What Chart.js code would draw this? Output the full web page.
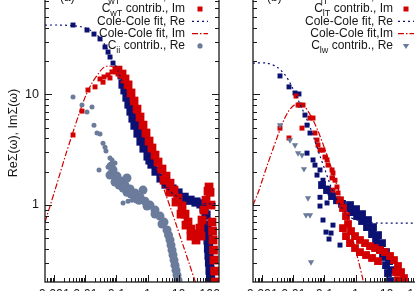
<!DOCTYPE html>
<html>
<head>
<meta charset="utf-8">
<title>Self-energy contributions</title>
<script src="https://cdn.jsdelivr.net/npm/chart.js@4.4.1/dist/chart.umd.min.js"></script>
<style>
  html, body { margin: 0; padding: 0; background: #fff; }
  #wrap { position: relative; width: 415px; height: 291px; overflow: hidden; background: #fff; }
  canvas { position: absolute; top: -30px; }
  #panelA { left: 0; }
  #panelB { left: 243px; }
</style>
</head>
<body>
<div id="wrap">
  <canvas id="panelA" width="229" height="340" style="width:229px;height:340px"></canvas>
  <canvas id="panelB" width="194" height="340" style="width:194px;height:340px"></canvas>
</div>
<script>
const FONT = "'Liberation Sans', Arial, Helvetica, sans-serif";
const INK = '#161616';
const NAVY = '#0b1172';
const RED = '#d20000';
const SLATE = '#6b7b9b';

const X_MIN = 0.0005, X_MAX = 200;
const Y_MIN = 0.2, Y_MAX = 100;

// ---- panel (a) ----
const aWtReLooseX = [0.00399, 0.01125, 0.0189, 0.0295, 0.0428, 0.0535, 0.0619, 0.0774, 0.104, 0.130];
const aWtReLooseY = [42.5, 38.3, 35.2, 31.8, 26.9, 24.2, 21.8, 19.2, 16.6, 14.4];
const aWtReBandX = [0.163, 0.188, 0.218, 0.253, 0.294, 0.341, 0.395, 0.494, 0.617, 0.771,
  1.04, 1.20, 1.39, 1.88, 2.72, 3.94, 6.14, 9.59, 15.0, 23.3,
  36.4, 52.7, 65.9, 76.4, 82.2, 85.5, 88.7, 92.0, 95.5, 99.1, 103, 107, 111];
const aWtReBandY = [12.4, 11.0, 9.46, 8.18, 7.07, 6.11, 5.27, 4.47, 3.78, 3.27,
  2.77, 2.55, 2.34, 2.02, 1.75, 1.54, 1.39, 1.28, 1.17, 1.10,
  1.06, 1.02, 0.935, 0.807, 0.655, 0.566, 0.480, 0.406, 0.351, 0.303, 0.256, 0.221, 0.188];

const aWtImLooseX = [0.00399, 0.00776, 0.0121, 0.0204, 0.0295, 0.0369, 0.0397, 0.0535, 0.0619, 0.0718, 0.0897, 0.112];
const aWtImLooseY = [4.29, 7.06, 10.96, 11.7, 13.8, 12.9, 14.4, 15.0, 14.1, 16.0, 17.0, 15.3];
const aWtImBandX = [0.112, 0.151, 0.188, 0.236, 0.294, 0.367, 0.458, 0.573, 0.716, 0.893,
  1.12, 1.39, 1.74, 2.18, 2.92, 3.40, 3.94, 5.30, 5.30, 7.13,
  8.26, 9.59, 12.0, 12.9, 16.1, 17.3, 20.1, 25.1, 25.1, 31.4,
  36.4, 39.2, 49.0, 52.7, 56.8, 65.9, 76.4, 88.7, 95.5, 103,
  111, 119, 124, 128.5, 133, 138, 144, 149];
const aWtImBandY = [16.6, 15.3, 13.8, 12.2, 10.3, 8.71, 7.36, 6.24, 5.27, 4.47,
  3.78, 3.27, 2.82, 2.44, 2.11, 1.67, 1.82, 1.57, 1.30, 1.36,
  1.06, 1.15, 0.824, 0.975, 0.824, 0.655, 0.698, 0.603, 0.521, 0.543,
  0.480, 0.543, 0.615, 0.521, 0.728, 0.897, 1.10, 1.33, 1.45, 1.30,
  0.995, 0.698, 0.578, 0.480, 0.389, 0.316, 0.251, 0.20];

const aFitReX = [0.0005, 0.00152, 0.00319, 0.0067, 0.0121, 0.0204, 0.0295, 0.0428, 0.0619, 0.0897,
  0.130, 0.188, 0.273, 0.395, 0.573, 0.830, 1.20, 1.74, 2.52, 3.66,
  5.30, 7.67, 11.1, 23.3, 49.0, 103, 200];
const aFitReY = [42.5, 42.5, 42.1, 41.2, 39.1, 35.9, 32.4, 28.0, 23.2, 18.8,
  14.7, 10.96, 7.85, 5.62, 4.11, 3.13, 2.44, 1.98, 1.67, 1.48,
  1.33, 1.22, 1.15, 1.08, 1.04, 1.02, 1.02];

const aFitImX = [0.0005, 0.00105, 0.0022, 0.00399, 0.0067, 0.01045, 0.0163, 0.0255, 0.0369, 0.0535,
  0.0774, 0.112, 0.163, 0.236, 0.341, 0.494, 0.716, 1.04, 1.62, 2.52,
  3.94, 6.14, 8.89, 13.9, 21.7, 33.8, 39.2];
const aFitImY = [0.698, 1.36, 2.71, 4.56, 7.06, 9.87, 12.7, 15.3, 17.3, 18.1,
  17.7, 16.3, 14.4, 12.2, 9.66, 7.22, 5.27, 3.78, 2.59, 1.78,
  1.22, 0.859, 0.628, 0.432, 0.297, 0.204, 0.180];

const aIiLooseX = [0.00399, 0.00776, 0.01125, 0.0163, 0.0189, 0.0236, 0.0295, 0.0369, 0.0428, 0.046,
  0.0274, 0.0535, 0.0619, 0.0718, 0.0897, 0.163, 0.236, 0.316];
const aIiLooseY = [9.46, 8.01, 6.92, 7.69, 5.27, 4.47, 4.38, 3.62, 3.33, 3.07,
  2.07, 2.20, 2.65, 2.55, 2.39, 1.04, 1.08, 1.10];
const aIiBandX = [0.0619, 0.0774, 0.104, 0.121, 0.140, 0.188, 0.218, 0.273, 0.395, 0.458,
  0.573, 0.830, 1.20, 1.74, 2.52, 3.40, 4.24, 4.74, 5.30, 5.70,
  6.14, 6.62, 7.13, 7.67, 8.26, 8.89, 9.59, 10.3,
  0.0667, 0.0897, 0.163, 0.218, 0.294, 0.532, 0.716, 0.962, 1.74, 2.92];
const aIiBandY = [1.86, 2.07, 1.82, 1.51, 1.64, 1.51, 1.30, 1.39, 1.28, 1.13,
  1.17, 1.08, 0.995, 0.897, 0.791, 0.698, 0.592, 0.532, 0.480, 0.432,
  0.389, 0.351, 0.316, 0.284, 0.256, 0.231, 0.208, 0.176,
  2.24, 1.61, 1.42, 1.75, 1.25, 1.10, 1.36, 0.975, 0.824, 0.670];

// ---- panel (b) ----
const bLtReLooseX = [0.0037, 0.00721, 0.01125, 0.0151, 0.0163, 0.0236, 0.0274, 0.0342, 0.0274, 0.0428,
  0.0495, 0.0575, 0.0718, 0.0897, 0.121, 0.0718, 0.151, 0.0718, 0.121, 0.0897,
  0.112, 0.163, 0.140, 0.188, 0.316];
const bLtReLooseY = [14.7, 11.7, 10.3, 10.1, 8.01, 6.50, 5.27, 4.47, 2.94, 2.55,
  2.29, 1.86, 2.07, 1.67, 1.42, 1.17, 1.28, 0.975, 1.04, 0.728,
  0.566, 0.555, 0.490, 0.655, 0.432];
const bLtReBandX = [0.0834, 0.121, 0.175, 0.253, 0.367, 0.532, 0.771, 1.12, 1.62, 2.34,
  3.40, 4.57, 6.14, 7.67, 9.59, 11.1, 12.9, 13.9,
  0.664, 1.04, 1.62, 2.52, 3.66, 5.30, 7.13, 9.59, 12.0, 13.9];
const bLtReBandY = [1.51, 1.36, 1.20, 1.10, 1.02, 0.935, 0.859, 0.791, 0.713, 0.628,
  0.543, 0.470, 0.397, 0.337, 0.284, 0.241, 0.204, 0.176,
  0.995, 0.914, 0.824, 0.728, 0.628, 0.532, 0.450, 0.373, 0.309, 0.256];

const bLtImLooseX = [0.0121, 0.0204, 0.0141, 0.0037, 0.00721, 0.0189, 0.0342, 0.0428, 0.0495, 0.0575,
  0.0619, 0.0718, 0.0897, 0.104, 0.121, 0.130, 0.175, 0.188, 0.175, 0.218,
  0.253, 0.188, 0.273];
const bLtImLooseY = [9.66, 8.01, 8.01, 4.95, 4.03, 4.95, 6.11, 6.11, 4.47, 3.86,
  3.48, 3.13, 3.13, 2.71, 2.55, 2.29, 2.07, 1.94, 1.75, 1.67,
  1.45, 1.36, 1.28];
const bLtImBandX = [0.316, 0.395, 0.494, 0.573, 0.716, 0.962, 1.39, 2.02, 2.92, 4.24,
  6.14, 8.89, 12.9, 17.3, 23.3, 29.2, 36.4, 42.3,
  0.395, 0.494, 0.664, 0.962, 1.39, 2.18, 3.40, 5.30, 20.1, 23.3];
const bLtImBandY = [1.10, 0.935, 0.791, 0.670, 0.578, 0.521, 0.480, 0.450, 0.423, 0.406,
  0.389, 0.373, 0.344, 0.316, 0.279, 0.246, 0.217, 0.188,
  0.615, 0.521, 0.450, 0.406, 0.373, 0.351, 0.330, 0.309, 0.246, 0.208];

const bFitReX = [0.0005, 0.00141, 0.00296, 0.00535, 0.00776, 0.01125, 0.0163, 0.0236, 0.0342, 0.0495,
  0.0718, 0.104, 0.151, 0.218, 0.316, 0.458, 0.664, 1.12, 2.02, 6.14, 200];
const bFitReY = [19.2, 19.2, 17.7, 15.0, 12.7, 10.3, 8.18, 6.50, 5.06, 3.78,
  2.77, 2.07, 1.54, 1.20, 0.995, 0.859, 0.774, 0.728, 0.698, 0.684, 0.684];

const bFitImX = [0.0005, 0.000724, 0.00105, 0.00152, 0.0022, 0.00319, 0.00462, 0.0067, 0.0097, 0.0141,
  0.0204, 0.0295, 0.0428, 0.0619, 0.0897, 0.130, 0.188, 0.273, 0.395, 0.573,
  0.830, 1.20, 1.74, 1.88];
const bFitImY = [0.995, 1.28, 1.75, 2.39, 3.20, 4.29, 5.62, 6.92, 7.85, 8.36,
  8.01, 7.06, 5.86, 4.66, 3.55, 2.65, 1.94, 1.39, 0.995, 0.698,
  0.480, 0.322, 0.208, 0.180];

const bLwReX = [0.0037, 0.00776, 0.01125, 0.0141, 0.0189, 0.0219, 0.0295, 0.0255, 0.0342, 0.0369];
const bLwReY = [5.27, 3.86, 3.48, 2.94, 2.82, 2.11, 1.15, 0.807, 0.807, 0.303];

// ---- helpers ----
const pts = (xs, ys) => xs.map((x, i) => ({ x, y: ys[i] }));

function isDecade(v) {
  const e = Math.log10(v);
  return Math.abs(e - Math.round(e)) < 1e-6;
}
function decadeLabel(v) {
  if (!isDecade(v)) return '';
  const e = Math.round(Math.log10(v));
  return e < 0 ? v.toFixed(-e) : String(Math.round(v));
}

function scatterSet(label, looseX, looseY, bandX, bandY, color, style, small, big, order) {
  const n = looseX.length;
  return {
    label,
    data: pts(looseX, looseY).concat(pts(bandX, bandY)),
    showLine: false,
    pointStyle: style,
    pointRotation: style === 'triangle' ? 180 : 0,
    backgroundColor: color,
    borderColor: color,
    pointBorderWidth: 0,
    pointRadius: c => (c.dataIndex < n ? small : big),
    order,
    clip: 0
  };
}

function fitSet(label, xs, ys, color, dash, order) {
  return {
    label,
    data: pts(xs, ys),
    showLine: true,
    pointRadius: 0,
    borderColor: color,
    backgroundColor: color,
    borderWidth: 1.2,
    borderDash: dash,
    tension: 0.3,
    order,
    clip: 0
  };
}

// inward tick marks on all four sides plus the frame
const framePlugin = {
  id: 'frame',
  afterDatasetsDraw(chart) {
    const { ctx, chartArea: a } = chart;
    const xs = chart.scales.x, ys = chart.scales.y;
    ctx.save();
    ctx.strokeStyle = '#1a1a1a';
    ctx.lineWidth = 1;
    ctx.beginPath();
    for (let e = -4; e <= 2; e++) {
      for (let k = 1; k <= 9; k++) {
        const v = k * Math.pow(10, e);
        const len = k === 1 ? 7 : 4;
        if (v > X_MIN && v < X_MAX) {
          const p = Math.round(xs.getPixelForValue(v)) + 0.5;
          ctx.moveTo(p, a.bottom); ctx.lineTo(p, a.bottom - len);
          ctx.moveTo(p, a.top); ctx.lineTo(p, a.top + len);
        }
        if (v > Y_MIN && v < Y_MAX) {
          const p = Math.round(ys.getPixelForValue(v)) + 0.5;
          ctx.moveTo(a.left, p); ctx.lineTo(a.left + len, p);
          ctx.moveTo(a.right, p); ctx.lineTo(a.right - len, p);
        }
      }
    }
    ctx.stroke();
    ctx.lineWidth = 1.3;
    ctx.strokeRect(a.left, a.top, a.right - a.left, a.bottom - a.top);
    ctx.restore();
  }
};

function drawRich(ctx, label, right, y) {
  const parts = label.split(/_\{([^}]*)\}/).map((t, i) => ({ t, sub: i % 2 === 1 }));
  const fonts = parts.map(p => (p.sub ? '9px ' : '12px ') + FONT);
  let total = 0;
  const widths = parts.map((p, i) => {
    ctx.font = fonts[i];
    const w = ctx.measureText(p.t).width;
    total += w;
    return w;
  });
  let x = right - total;
  parts.forEach((p, i) => {
    ctx.font = fonts[i];
    ctx.fillText(p.t, x, p.sub ? y + 5 : y);
    x += widths[i];
  });
}

function drawKeySymbol(ctx, ds, x, y) {
  ctx.save();
  if (ds.showLine) {
    ctx.strokeStyle = ds.borderColor;
    ctx.lineWidth = ds.borderWidth;
    ctx.setLineDash(ds.borderDash || []);
    ctx.beginPath();
    ctx.moveTo(x - 8, y); ctx.lineTo(x + 8, y);
    ctx.stroke();
  } else {
    ctx.fillStyle = ds.backgroundColor;
    ctx.beginPath();
    if (ds.pointStyle === 'rect') ctx.rect(x - 2.5, y - 2.5, 5, 5);
    else if (ds.pointStyle === 'circle') ctx.arc(x, y, 2.6, 0, Math.PI * 2);
    else { ctx.moveTo(x - 3.2, y - 2); ctx.lineTo(x + 3.2, y - 2); ctx.lineTo(x, y + 3.2); ctx.closePath(); }
    ctx.fill();
  }
  ctx.restore();
}

// gnuplot-like key: text right-aligned, sample to the right
const keyPlugin = {
  id: 'keyBox',
  afterDraw(chart, args, opts) {
    const { ctx, chartArea: a } = chart;
    ctx.save();
    ctx.fillStyle = INK;
    ctx.textAlign = 'left';
    ctx.textBaseline = 'middle';
    chart.data.datasets.forEach((ds, i) => {
      const y = a.top + 12.7 + i * 12.3;
      drawRich(ctx, ds.label, a.right - 34, y);
      drawKeySymbol(ctx, ds, a.right - opts.symbol, y);
    });
    ctx.font = '12px ' + FONT;
    ctx.textBaseline = 'alphabetic';
    ctx.fillText(opts.tag, a.left + opts.tagX, a.top + 17);
    ctx.restore();
  }
};

function scaleOptions(withLabels) {
  return {
    x: {
      type: 'logarithmic', min: X_MIN, max: X_MAX,
      grid: { display: false, drawTicks: false },
      border: { display: false },
      ticks: {
        autoSkip: false, maxRotation: 0, padding: 5, color: INK,
        font: { size: 12.5, family: FONT }, callback: v => decadeLabel(v)
      },
      afterFit: s => { s.height = 28; }
    },
    y: {
      type: 'logarithmic', min: Y_MIN, max: Y_MAX,
      grid: { display: false, drawTicks: false },
      border: { display: false },
      ticks: {
        display: withLabels, autoSkip: false, padding: 6, color: INK,
        font: { size: 12.5, family: FONT }, callback: v => decadeLabel(v)
      },
      title: {
        display: withLabels, text: 'ReΣ(ω), ImΣ(ω)', color: INK,
        font: { size: 12.5, family: FONT }, padding: { top: 6, bottom: 0 }
      },
      afterFit: s => { s.width = withLabels ? 45 : 10; }
    }
  };
}

function makePanel(id, datasets, withLabels, key) {
  return new Chart(document.getElementById(id), {
    type: 'scatter',
    data: { datasets },
    options: {
      responsive: false,
      animation: false,
      devicePixelRatio: 1,
      events: [],
      layout: { padding: { top: 14, right: 10, left: 0, bottom: 0 } },
      scales: scaleOptions(withLabels),
      plugins: { legend: { display: false }, tooltip: { enabled: false }, keyBox: key }
    },
    plugins: [framePlugin, keyPlugin]
  });
}

makePanel('panelA', [
  scatterSet('C_{wT} contrib., Re', aWtReLooseX, aWtReLooseY, aWtReBandX, aWtReBandY, NAVY, 'rect', 3.5, 6.5, 5),
  scatterSet('C_{wT} contrib., Im', aWtImLooseX, aWtImLooseY, aWtImBandX, aWtImBandY, RED, 'rect', 3.5, 6.2, 4),
  fitSet('Cole-Cole fit, Re', aFitReX, aFitReY, NAVY, [2, 3], 3),
  fitSet('Cole-Cole fit, Im', aFitImX, aFitImY, RED, [6, 2, 1.5, 2], 2),
  scatterSet('C_{ii} contrib., Re', aIiLooseX, aIiLooseY, aIiBandX, aIiBandY, SLATE, 'circle', 2.5, 4.5, 1)
], true, { tag: '(a)', tagX: 15, symbol: 19 });

makePanel('panelB', [
  scatterSet('C_{lT} contrib., Re', bLtReLooseX, bLtReLooseY, bLtReBandX, bLtReBandY, NAVY, 'rect', 3.5, 5.5, 5),
  scatterSet('C_{lT} contrib., Im', bLtImLooseX, bLtImLooseY, bLtImBandX, bLtImBandY, RED, 'rect', 3.5, 5.5, 4),
  fitSet('Cole-Cole fit, Re', bFitReX, bFitReY, NAVY, [2, 3], 3),
  fitSet('Cole-Cole fit,Im', bFitImX, bFitImY, RED, [6, 2, 1.5, 2], 2),
  scatterSet('C_{lw} contrib., Re', bLwReX, bLwReY, [], [], SLATE, 'triangle', 3.6, 3.6, 1)
], false, { tag: '(b)', tagX: 14, symbol: 21 });
</script>
</body>
</html>
